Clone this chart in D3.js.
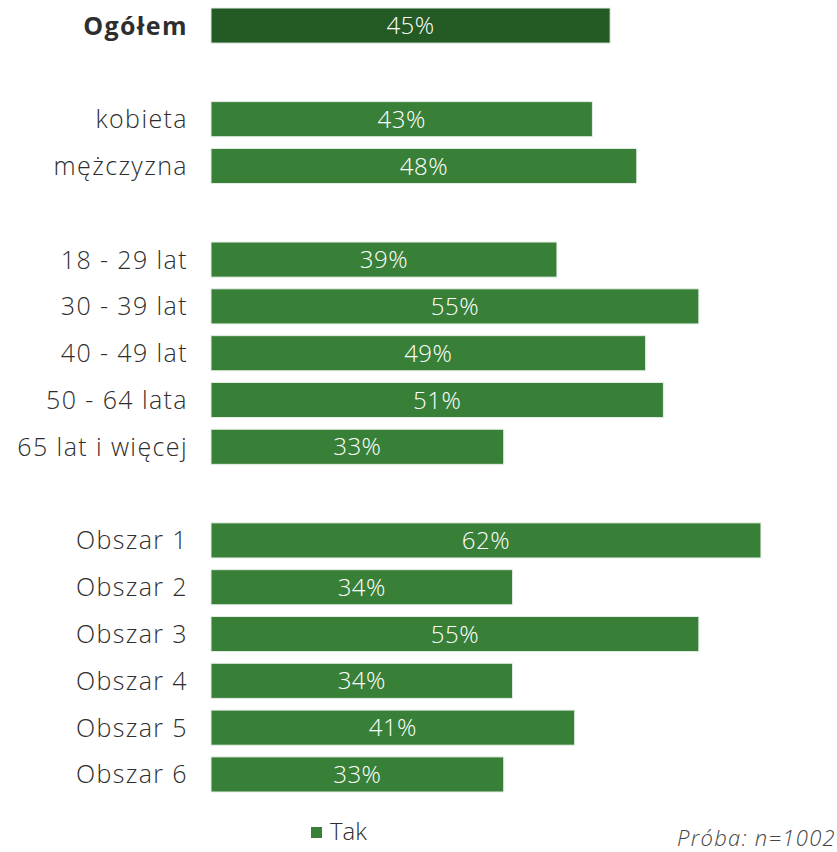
<!DOCTYPE html>
<html>
<head>
<meta charset="utf-8">
<script src="https://cdn.jsdelivr.net/npm/d3@7"></script>
<style>
  body { margin: 0; background: #fff; }
  svg text { font-family: "Century Gothic", "Open Sans", "DejaVu Sans", sans-serif; font-weight: 300; }
</style>
</head>
<body>
<script>
// kategorie (puste pozycje = odstępy między grupami)
const categories = ["Ogółem", "", "kobieta", "mężczyzna", " ",
  "18 - 29 lat", "30 - 39 lat", "40 - 49 lat", "50 - 64 lata", "65 lat i więcej", "  ",
  "Obszar 1", "Obszar 2", "Obszar 3", "Obszar 4", "Obszar 5", "Obszar 6"];
const values = [45, null, 43, 48, null, 39, 55, 49, 51, 33, null, 62, 34, 55, 34, 41, 33];
const seriesName = "Tak";
const note = "Próba: n=1002";

const width = 837, height = 852;
const svg = d3.select("body").append("svg").attr("width", width).attr("height", height);

const x = d3.scaleLinear().domain([0, 100]).range([211, 211 + 887]);
const y = d3.scaleBand().domain(categories).range([8, 792]).paddingInner(0.25).paddingOuter(0);

const rows = categories.map((c, i) => ({ name: c, value: values[i], i: i }));
const filled = rows.filter(d => d.value !== null);

//słupki
svg.selectAll(".bar")
  .data(filled)
  .enter()
  .append("rect")
  .attr("class", "bar")
  .attr("x", x(0))
  .attr("y", d => y(d.name))
  .attr("width", d => x(d.value) - x(0))
  .attr("height", y.bandwidth())
  .attr("fill", d => d.i === 0 ? "#245b25" : "#388038")
  .attr("stroke", "#e6eee6")
  .attr("stroke-width", 1);

//wartości
svg.selectAll(".val")
  .data(filled)
  .enter()
  .append("text")
  .attr("x", d => (x(0) + x(d.value)) / 2)
  .attr("y", d => y(d.name) + y.bandwidth() / 2)
  .attr("dy", "0.36em")
  .attr("text-anchor", "middle")
  .attr("fill", "#fff")
  .style("font-size", "24px")
  .style("letter-spacing", "0.5px")
  .text(d => d.value + "%");

//etykiety kategorii
svg.selectAll(".lab")
  .data(filled)
  .enter()
  .append("text")
  .attr("x", 188)
  .attr("y", d => y(d.name) + y.bandwidth() / 2)
  .attr("dy", "0.36em")
  .attr("text-anchor", "end")
  .attr("fill", "#2e2e2e")
  .style("font-size", "25px")
  .style("letter-spacing", "1.4px")
  .style("font-weight", d => d.i === 0 ? "bold" : "300")
  .text(d => d.name);

//legenda
svg.append("rect").attr("x", 311).attr("y", 827).attr("width", 11).attr("height", 11).attr("fill", "#388038");
svg.append("text").attr("x", 330).attr("y", 831).attr("dy", "0.36em")
  .attr("fill", "#2e2e2e").style("font-size", "24px").text(seriesName);

svg.append("text").attr("x", 836).attr("y", 838).attr("dy", "0.36em")
  .attr("text-anchor", "end").attr("fill", "#444")
  .style("font-size", "22px").style("font-style", "italic").style("letter-spacing", "1.3px").text(note);
</script>
</body>
</html>
